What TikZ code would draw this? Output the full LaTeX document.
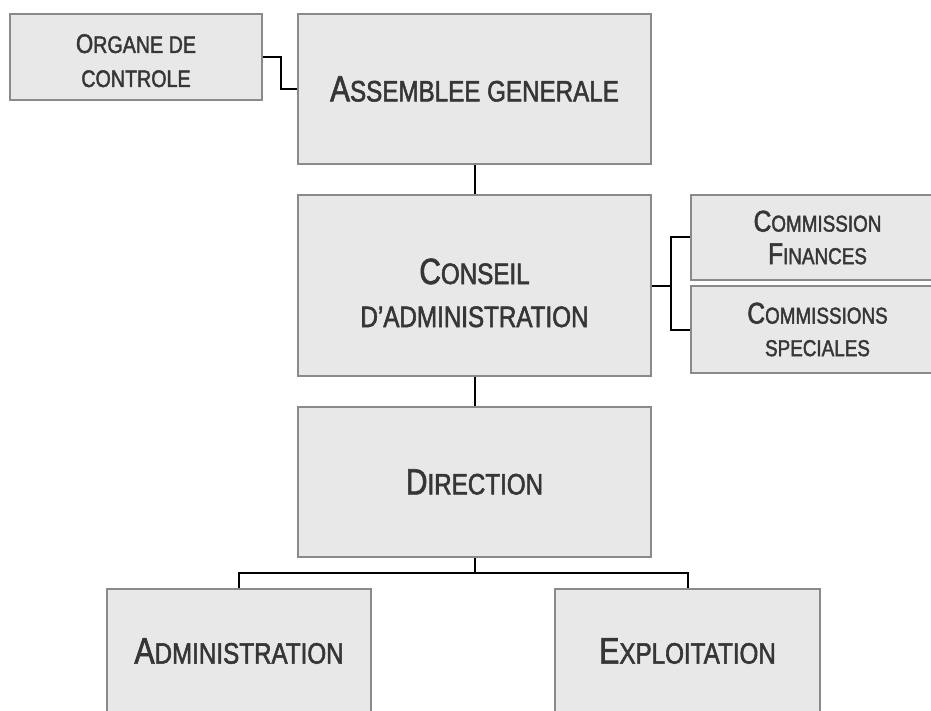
\documentclass[tikz,border=0pt]{standalone}
\usepackage{fontspec}
\setmainfont{Liberation Sans}[FakeStretch=0.82,FakeBold=1.8]
\definecolor{boxfill}{HTML}{E8E8E8}
\definecolor{boxline}{HTML}{8A8A8A}
\definecolor{txt}{HTML}{363636}
\newcommand\Ini[2]{{\fontsize{#1pt}{#1pt}\selectfont #2}}
\begin{document}
\begin{tikzpicture}[x=1pt,y=-1pt,
  box/.style={draw=boxline, fill=boxfill, line width=1.5pt, align=center, text=txt, inner sep=0pt},
  link/.style={draw=black, line width=2pt}]
\useasboundingbox (0,0) rectangle (931,711);
\clip (0,0) rectangle (931,711);
\node[box, minimum width=252pt, minimum height=86pt, font=\fontsize{24pt}{34pt}\selectfont, text height=60pt, text depth=0pt] (org) at (136,57) {\Ini{27}{O}RGANE DE\\CONTROLE};
\node[box, minimum width=353pt, minimum height=150pt, font=\fontsize{29.5pt}{43pt}\selectfont] (ag) at (474.5,89) {\Ini{36.5}{A}SSEMBLEE GENERALE};
\node[box, minimum width=353pt, minimum height=181pt, font=\fontsize{29.5pt}{43pt}\selectfont, text height=83pt, text depth=0pt] (ca) at (474.5,285.5) {\Ini{36.5}{C}ONSEIL\\D’ADMINISTRATION};
\node[box, minimum width=253pt, minimum height=85pt, font=\fontsize{23pt}{32.5pt}\selectfont] (cf) at (817.5,237.5) {\Ini{30}{C}OMMISSION\\\Ini{30}{F}INANCES};
\node[box, minimum width=253pt, minimum height=87pt, font=\fontsize{23pt}{32.5pt}\selectfont] (cs) at (817.5,329.5) {\Ini{30}{C}OMMISSIONS\\SPECIALES};
\node[box, minimum width=353pt, minimum height=150pt, font=\fontsize{29.5pt}{43pt}\selectfont] (dir) at (474.5,482) {\Ini{36.5}{D}IRECTION};
\node[box, minimum width=264pt, minimum height=124pt, font=\fontsize{29.5pt}{43pt}\selectfont] (adm) at (239,651) {\Ini{37}{A}DMINISTRATION};
\node[box, minimum width=265pt, minimum height=124pt, font=\fontsize{29.5pt}{43pt}\selectfont] (exp) at (687.5,651) {\Ini{37}{E}XPLOITATION};
\draw[link] (org.east) -- ++(18,0) |- (ag.west);
\draw[link] (ag.south) -- (ca.north);
\coordinate (cj) at (671,285.5);
\draw[link] (ca.east) -- (cj);
\draw[link] (cf.west) -| (cj) |- (cs.west);
\draw[link] (ca.south) -- (dir.north);
\coordinate (dj) at (474.5,573);
\draw[link] (dir.south) -- (dj);
\draw[link] (adm.north) |- (dj) -| (exp.north);
\end{tikzpicture}
\end{document}
